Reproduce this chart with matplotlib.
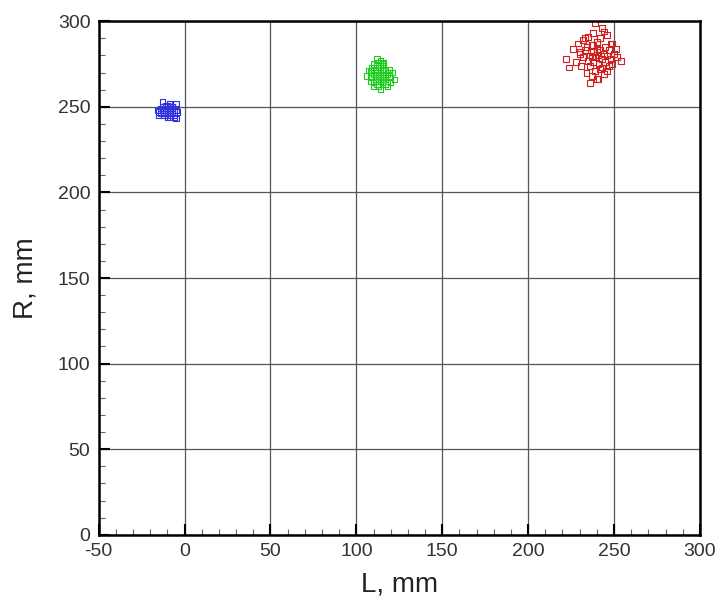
import numpy as np
import matplotlib.pyplot as plt
from matplotlib.ticker import MultipleLocator

# point clouds (L, R in mm)
blue_L = [-16, -15, -14, -14, -13, -13, -12, -12, -11, -11, -11, -10, -10, -10, -10, -9, -9, -9,
          -9, -8, -8, -8, -7, -7, -7, -6, -6, -5, -5, -4, -13, -12, -10, -9, -8, -11, -10, -9, -7, -6,
          -12, -8, -15, -5]
blue_R = [248, 247, 249, 246, 250, 248, 245, 247, 249, 251, 246, 248, 250, 244, 247, 249, 246, 252,
          248, 245, 250, 247, 249, 248, 250, 245, 244, 252, 243, 247, 253, 246, 251, 247, 248, 249,
          247, 244, 250, 248, 246, 250, 245, 248]

green_L = [106, 107, 108, 108, 109, 109, 110, 110, 110, 111, 111, 111, 112, 112, 112, 112, 113, 113,
           113, 113, 114, 114, 114, 114, 115, 115, 115, 115, 116, 116, 116, 117, 117, 117, 118, 118,
           119, 119, 120, 121, 122, 110, 112, 114, 116, 118, 113, 115, 111, 117, 114, 112, 116, 109,
           120, 113, 108, 119, 111, 115]
green_R = [268, 271, 265, 271, 267, 273, 264, 269, 275, 266, 270, 272, 263, 268, 271, 276, 265, 269,
           273, 262, 267, 270, 274, 277, 264, 268, 271, 275, 266, 269, 272, 263, 267, 271, 269, 265,
           268, 272, 267, 270, 266, 262, 278, 260, 274, 262, 266, 272, 270, 268, 265, 274, 276, 270,
           264, 268, 268, 270, 268, 266]

red_L = [222, 224, 226, 228, 229, 230, 231, 232, 232, 233, 234, 234, 235, 235, 236, 236, 237, 237,
         238, 238, 238, 239, 239, 240, 240, 240, 241, 241, 242, 242, 242, 243, 243, 244, 244, 245,
         245, 246, 246, 247, 247, 248, 248, 249, 250, 251, 252, 254, 236, 239, 243, 241, 233, 246,
         240, 237, 244, 230, 249, 238]
red_R = [278, 273, 284, 276, 287, 281, 274, 279, 289, 283, 270, 285, 277, 291, 280, 274, 286, 268,
         282, 276, 293, 279, 271, 284, 288, 266, 280, 275, 283, 290, 272, 278, 296, 281, 269, 285,
         276, 280, 292, 274, 283, 278, 287, 275, 281, 284, 279, 277, 264, 299, 273, 266, 290, 271,
         282, 279, 294, 282, 287, 286]

x_ticks = [-50, 0, 50, 100, 150, 200, 250, 300]
y_ticks = [0, 50, 100, 150, 200, 250, 300]

plt.rcParams['font.family'] = ['Liberation Sans', 'DejaVu Sans']
plt.rcParams['axes.unicode_minus'] = False

fig = plt.figure(figsize=(7.26, 6.07), dpi=100)
ax = fig.add_axes([0.136, 0.119, 0.828, 0.846])

ax.grid(True, which='major', color='#555555', linewidth=0.9)
ax.set_axisbelow(True)

ax.scatter(blue_L, blue_R, marker='s', s=14, facecolors='none', edgecolors='#3030e0', linewidths=0.8)
ax.scatter(green_L, green_R, marker='s', s=14, facecolors='none', edgecolors='#20cc20', linewidths=0.8)
ax.scatter(red_L, red_R, marker='s', s=18, facecolors='none', edgecolors='#d02020', linewidths=0.8)

ax.set_xlim(-50, 300)
ax.set_ylim(0, 300)
ax.set_xticks(x_ticks)
ax.set_yticks(y_ticks)
ax.xaxis.set_minor_locator(MultipleLocator(10))
ax.yaxis.set_minor_locator(MultipleLocator(10))
ax.tick_params(which='major', direction='in', length=8, width=1.5, labelsize=14, colors='black',
               labelcolor='#333333', pad=6)
ax.tick_params(which='minor', direction='in', length=4, width=0.8, color='#666666')
for s in ax.spines.values():
    s.set_linewidth(1.8)

ax.set_xlabel('L, mm', fontsize=20, color='#222222', labelpad=8)
ax.set_ylabel('R, mm', fontsize=20, color='#222222', labelpad=14)

fig.savefig('out.png', dpi=100)
